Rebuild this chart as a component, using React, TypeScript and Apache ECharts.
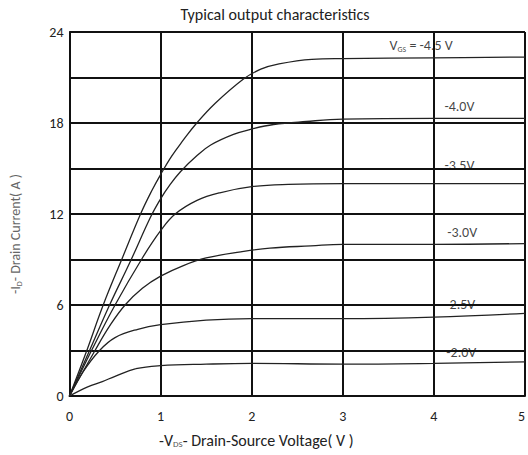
import React, { useEffect, useRef } from "react";
import * as echarts from "echarts";

// -VDS (V), -ID (A) pairs
const curveVgs45: number[][] = [
  [0, 0], [0.19, 3], [0.37, 6], [0.58, 9.1], [0.78, 12], [0.9, 13.5], [1.0, 14.6],
  [1.12, 15.8], [1.24, 16.8], [1.39, 17.95], [1.6, 19.3], [1.91, 20.9], [2.1, 21.55],
  [2.3, 21.9], [2.66, 22.2], [3, 22.25], [4, 22.3], [5, 22.35],
];
const curveVgs40: number[][] = [
  [0, 0], [0.22, 3], [0.44, 6], [0.67, 8.9], [0.89, 11.8], [1.0, 13.0], [1.1, 13.9],
  [1.22, 14.8], [1.4, 15.85], [1.55, 16.55], [1.8, 17.25], [2, 17.6], [2.24, 17.9],
  [2.6, 18.1], [3, 18.25], [4, 18.3], [5, 18.3],
];
const curveVgs35: number[][] = [
  [0, 0], [0.25, 3.1], [0.5, 6], [0.8, 9.1], [1, 10.9], [1.16, 12], [1.4, 12.9],
  [1.65, 13.4], [2, 13.8], [2.4, 13.95], [3, 14.0], [4, 14.0], [5, 14.0],
];
const curveVgs30: number[][] = [
  [0, 0], [0.28, 3], [0.45, 4.7], [0.61, 6], [0.8, 7.1], [1.0, 7.9], [1.25, 8.6],
  [1.5, 9.1], [1.88, 9.5], [2.2, 9.75], [2.65, 9.9], [3, 10.0], [4, 10.0], [5, 10.05],
];
const curveVgs25: number[][] = [
  [0, 0], [0.15, 1.6], [0.33, 3.0], [0.5, 3.85], [0.75, 4.4], [1, 4.7], [1.5, 5.0],
  [2, 5.1], [3, 5.1], [4, 5.2], [5, 5.45],
];
const curveVgs20: number[][] = [
  [0, 0], [0.2, 0.6], [0.36, 0.95], [0.5, 1.3], [0.73, 1.8], [1, 2.0], [1.5, 2.1],
  [2, 2.15], [3, 2.1], [4, 2.15], [5, 2.25],
];

const curves = [curveVgs45, curveVgs40, curveVgs35, curveVgs30, curveVgs25, curveVgs20];
const curveNames = ["-4.5V", "-4.0V", "-3.5V", "-3.0V", "-2.5V", "-2.0V"];

// curve annotation texts and their anchor points in data units
const annotTexts = ["V{sub|GS} = -4.5 V", "-4.0V", "-3.5V", "-3.0V", "-2.5V", "-2.0V"];
const annotPoints: number[][] = [
  [3.86, 23.1], [4.28, 19.07], [4.28, 15.2], [4.31, 10.75], [4.29, 6.06], [4.3, 2.85],
];

const xTicks = [0, 1, 2, 3, 4, 5];
const yTickLabels = [0, 6, 12, 18, 24];

const FONT = "Carlito, Lato, 'Open Sans', sans-serif";

export default function App() {
  const ref = useRef<HTMLDivElement>(null);
  useEffect(() => {
    if (!ref.current) return;
    const chart = echarts.init(ref.current, null, { renderer: "svg" });
    const gridLine = { show: true, lineStyle: { color: "#111", width: 2 } };
    const lineSeries = curves.map((d, i) => ({
      name: curveNames[i],
      type: "line",
      data: d,
      smooth: 0.4,
      showSymbol: false,
      symbol: "none",
      lineStyle: { color: "#222", width: 1.3 },
      z: 3,
    }));
    const labelSeries = {
      type: "scatter",
      symbolSize: 0,
      silent: true,
      z: 5,
      data: annotPoints.map((p, i) => ({ value: p, name: annotTexts[i] })),
      label: {
        show: true,
        position: "inside",
        formatter: (p: any) => p.name,
        color: "#111",
        fontSize: 14,
        fontFamily: FONT,
        rich: {
          sub: { fontSize: 8, verticalAlign: "bottom", color: "#111", fontFamily: FONT, padding: [6, 0, 0, 0] },
        },
      },
    };
    chart.setOption({
      animation: false,
      backgroundColor: "#fff",
      grid: { left: 69, right: 1, top: 32, bottom: 59, containLabel: false },
      graphic: [
        {
          type: "text",
          x: 275,
          y: 14,
          style: {
            text: "Typical output characteristics",
            fontSize: 16,
            fill: "#222",
            fontFamily: FONT,
            align: "center",
            verticalAlign: "middle",
          },
        },
      ],
      xAxis: {
        type: "value",
        min: xTicks[0],
        max: xTicks[xTicks.length - 1],
        interval: 1,
        axisLine: { show: true, lineStyle: { color: "#111", width: 2 } },
        axisTick: { show: false },
        splitLine: gridLine,
        axisLabel: {
          color: "#222",
          fontSize: 14,
          fontFamily: FONT,
          margin: 13,
          alignMaxLabel: "right",
        },
        name: "-V{sub|DS}- Drain-Source Voltage( V )",
        nameLocation: "middle",
        nameGap: 36,
        nameTextStyle: {
          color: "#222",
          fontSize: 16,
          fontFamily: FONT,
          padding: [0, 82, 0, 0],
          rich: { sub: { fontSize: 9, color: "#555", verticalAlign: "bottom", padding: [7, 0, 0, 0] } },
        },
      },
      yAxis: {
        type: "value",
        min: 0,
        max: 24,
        interval: 3,
        axisLine: { show: true, lineStyle: { color: "#111", width: 2 } },
        axisTick: { show: false },
        splitLine: gridLine,
        axisLabel: {
          color: "#222",
          fontSize: 14,
          fontFamily: FONT,
          margin: 6,
          formatter: (v: number) => (yTickLabels.includes(v) ? String(v) : ""),
        },
        name: "-I{sub|D}- Drain Current( A )",
        nameLocation: "middle",
        nameGap: 47,
        nameTextStyle: {
          color: "#666",
          fontSize: 14,
          fontFamily: FONT,
          padding: [0, 40, 0, 0],
          rich: { sub: { fontSize: 8, color: "#666", verticalAlign: "bottom", padding: [7, 0, 0, 0] } },
        },
      },
      series: [...lineSeries, labelSeries],
    });
    return () => chart.dispose();
  }, []);
  return <div ref={ref} style={{ position: "fixed", left: 0, top: 0, width: 528, height: 455 }} />;
}
